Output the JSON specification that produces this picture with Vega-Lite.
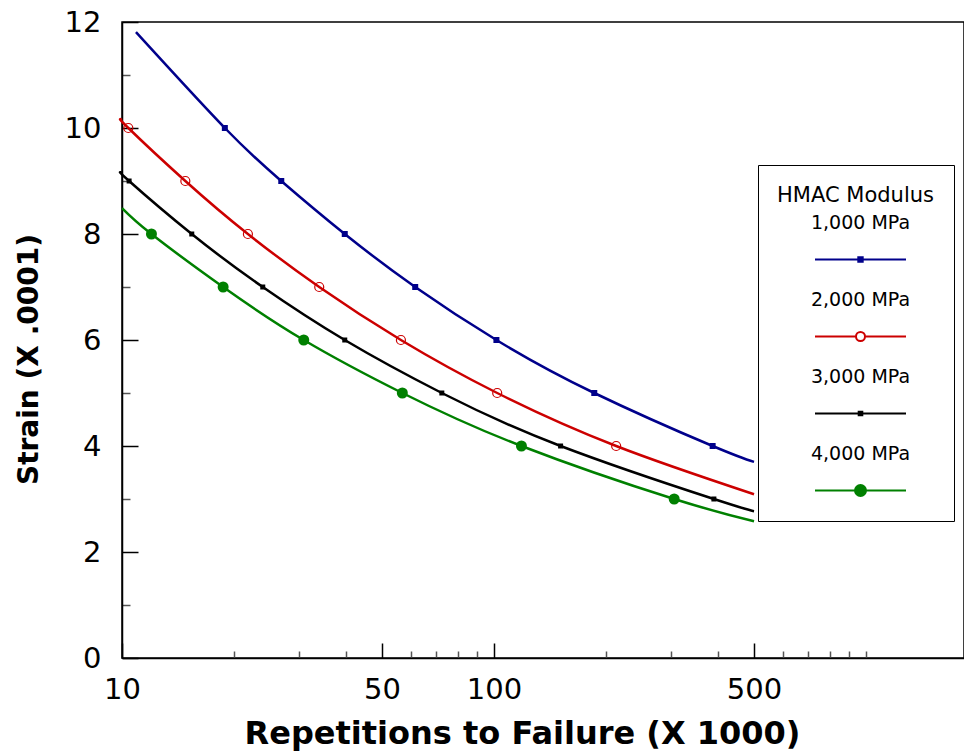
{
  "$schema": "https://vega.github.io/schema/vega-lite/v6.json",
  "autosize": {"type": "none"},
  "padding": {"left": 122, "top": 22, "right": 0, "bottom": 98},
  "width": 842,
  "height": 636,
  "background": "white",
  "config": {
    "view": {"stroke": "#000000", "strokeWidth": 1.5},
    "axis": {
      "grid": false,
      "domainColor": "#000000",
      "domainWidth": 1.5,
      "tickWidth": 1.5,
      "labelFont": "DejaVu Sans",
      "labelFontSize": 29,
      "labelColor": "#000000",
      "labelOverlap": false,
      "labelFlush": false,
      "titleFont": "DejaVu Sans",
      "titleFontWeight": "bold",
      "titleColor": "#000000"
    }
  },
  "data": {
    "values": [
      {"series": "1,000 MPa", "reps": 10.9, "strain": 11.81, "marker": false},
      {"series": "1,000 MPa", "reps": 18.9, "strain": 10, "marker": true},
      {"series": "1,000 MPa", "reps": 26.8, "strain": 9, "marker": true},
      {"series": "1,000 MPa", "reps": 39.7, "strain": 8, "marker": true},
      {"series": "1,000 MPa", "reps": 61.4, "strain": 7, "marker": true},
      {"series": "1,000 MPa", "reps": 101.5, "strain": 6, "marker": true},
      {"series": "1,000 MPa", "reps": 186, "strain": 5, "marker": true},
      {"series": "1,000 MPa", "reps": 387, "strain": 4, "marker": true},
      {"series": "1,000 MPa", "reps": 500, "strain": 3.7, "marker": false},
      {"series": "2,000 MPa", "reps": 10, "strain": 10.15, "marker": false},
      {"series": "2,000 MPa", "reps": 10.4, "strain": 10, "marker": true},
      {"series": "2,000 MPa", "reps": 14.8, "strain": 9, "marker": true},
      {"series": "2,000 MPa", "reps": 21.8, "strain": 8, "marker": true},
      {"series": "2,000 MPa", "reps": 33.9, "strain": 7, "marker": true},
      {"series": "2,000 MPa", "reps": 56.2, "strain": 6, "marker": true},
      {"series": "2,000 MPa", "reps": 102, "strain": 5, "marker": true},
      {"series": "2,000 MPa", "reps": 213, "strain": 4, "marker": true},
      {"series": "2,000 MPa", "reps": 500, "strain": 3.09, "marker": false},
      {"series": "3,000 MPa", "reps": 10, "strain": 9.15, "marker": false},
      {"series": "3,000 MPa", "reps": 10.45, "strain": 9, "marker": true},
      {"series": "3,000 MPa", "reps": 15.4, "strain": 8, "marker": true},
      {"series": "3,000 MPa", "reps": 23.9, "strain": 7, "marker": true},
      {"series": "3,000 MPa", "reps": 39.7, "strain": 6, "marker": true},
      {"series": "3,000 MPa", "reps": 72.4, "strain": 5, "marker": true},
      {"series": "3,000 MPa", "reps": 151, "strain": 4, "marker": true},
      {"series": "3,000 MPa", "reps": 390, "strain": 3, "marker": true},
      {"series": "3,000 MPa", "reps": 500, "strain": 2.77, "marker": false},
      {"series": "4,000 MPa", "reps": 10, "strain": 8.49, "marker": false},
      {"series": "4,000 MPa", "reps": 12.0, "strain": 8, "marker": true},
      {"series": "4,000 MPa", "reps": 18.7, "strain": 7, "marker": true},
      {"series": "4,000 MPa", "reps": 30.8, "strain": 6, "marker": true},
      {"series": "4,000 MPa", "reps": 56.7, "strain": 5, "marker": true},
      {"series": "4,000 MPa", "reps": 118.5, "strain": 4, "marker": true},
      {"series": "4,000 MPa", "reps": 305, "strain": 3, "marker": true},
      {"series": "4,000 MPa", "reps": 500, "strain": 2.58, "marker": false}
    ]
  },
  "encoding": {
    "x": {
      "field": "reps",
      "type": "quantitative",
      "scale": {"type": "log", "domain": [10, 1834], "nice": false},
      "axis": {
        "title": "Repetitions to Failure (X 1000)",
        "titleFontSize": 32,
        "titleX": 400,
        "titleY": 85,
        "titleBaseline": "alphabetic",
        "titleAlign": "center",
        "values": [10, 20, 30, 40, 50, 60, 70, 80, 90, 100, 200, 300, 400, 500, 600, 700, 800, 900, 1000],
        "labelExpr": "(datum.value == 10 || datum.value == 50 || datum.value == 100 || datum.value == 500) ? format(datum.value, 'd') : ''",
        "labelBaseline": "top",
        "labelPadding": 32,
        "tickSize": {"condition": {"test": "datum.value == 10 || datum.value == 50 || datum.value == 100 || datum.value == 500", "value": -15}, "value": -7},
        "tickColor": {"condition": {"test": "datum.value == 10 || datum.value == 50 || datum.value == 100 || datum.value == 500", "value": "#000000"}, "value": "#555555"}
      }
    },
    "y": {
      "field": "strain",
      "type": "quantitative",
      "scale": {"domain": [0, 12], "nice": false, "zero": false},
      "axis": {
        "title": "Strain (X .0001)",
        "titleFontSize": 28,
        "titleX": -85,
        "titleY": 337,
        "titleAngle": -90,
        "titleBaseline": "alphabetic",
        "titleAlign": "center",
        "values": [0, 1, 2, 3, 4, 5, 6, 7, 8, 9, 10, 11, 12],
        "labelExpr": "datum.value % 2 == 0 ? format(datum.value, 'd') : ''",
        "labelBaseline": "middle",
        "labelPadding": 37,
        "tickSize": {"condition": {"test": "datum.value % 2 == 0", "value": -16}, "value": -8},
        "tickColor": {"condition": {"test": "datum.value % 2 == 0", "value": "#000000"}, "value": "#555555"}
      }
    }
  },
  "layer": [
    {
      "mark": {"type": "line", "interpolate": "natural", "strokeWidth": 2.5, "opacity": 1},
      "encoding": {
        "stroke": {
          "field": "series",
          "type": "nominal",
          "scale": {"domain": ["1,000 MPa", "2,000 MPa", "3,000 MPa", "4,000 MPa"], "range": ["#00008B", "#CC0000", "#000000", "#008000"]}
        }
      }
    },
    {
      "transform": [{"filter": "false"}],
      "mark": {"type": "point", "filled": true, "opacity": 1, "strokeWidth": 2},
      "encoding": {
        "stroke": {
          "field": "series",
          "type": "nominal",
          "scale": {"domain": ["1,000 MPa", "2,000 MPa", "3,000 MPa", "4,000 MPa"], "range": ["#00008B", "#CC0000", "#000000", "#008000"]}
        },
        "fill": {
          "field": "series",
          "type": "nominal",
          "scale": {"domain": ["1,000 MPa", "2,000 MPa", "3,000 MPa", "4,000 MPa"], "range": ["#00008B", "#ffffff", "#000000", "#008000"]}
        },
        "shape": {
          "field": "series",
          "type": "nominal",
          "scale": {
            "domain": ["1,000 MPa", "2,000 MPa", "3,000 MPa", "4,000 MPa"],
            "range": [
              "M0,2.05L0,2.05M0,3.35L0,3.35M-4.55,2.7H4.55M-0.22,2.48H0.22V2.92H-0.22Z",
              "M0,2.05L0,2.05M0,3.35L0,3.35M-4.55,2.7H-0.45M0.45,2.7H4.55M0.45,2.7C0.45,2.949,0.249,3.15,0,3.15C-0.249,3.15,-0.45,2.949,-0.45,2.7C-0.45,2.451,-0.249,2.25,0,2.25C0.249,2.25,0.45,2.451,0.45,2.7Z",
              "M0,2.05L0,2.05M0,3.35L0,3.35M-4.55,2.7H4.55M-0.18,2.52H0.18V2.88H-0.18Z",
              "M0,2.05L0,2.05M0,3.35L0,3.35M-4.55,2.7H4.55M0.55,2.7C0.55,3.004,0.304,3.25,0,3.25C-0.304,3.25,-0.55,3.004,-0.55,2.7C-0.55,2.396,-0.304,2.15,0,2.15C0.304,2.15,0.55,2.396,0.55,2.7Z"
            ]
          },
          "legend": {
            "title": "HMAC Modulus",
            "orient": "none",
            "legendX": 636,
            "legendY": 143,
            "direction": "vertical",
            "padding": 19.5,
            "strokeColor": "#000000",
            "fillColor": "#ffffff",
            "titleFont": "DejaVu Sans",
            "titleFontSize": 21,
            "titleFontWeight": "normal",
            "titleColor": "#000000",
            "titleAnchor": "middle",
            "titleAlign": "center",
            "titleBaseline": "top",
            "titlePadding": 16,
            "labelFont": "DejaVu Sans",
            "labelFontSize": 19,
            "labelColor": "#000000",
            "labelExpr": "[datum.label, '']",
            "labelBaseline": "bottom",
            "labelAlign": "center",
            "labelOffset": -11,
            "symbolOffset": 49,
            "symbolSize": 400,
            "symbolStrokeWidth": 2,
            "symbolOpacity": 1,
            "rowPadding": 20
          }
        }
      }
    },
    {
      "transform": [{"filter": "datum.marker && datum.series == '1,000 MPa'"}],
      "mark": {"type": "point", "shape": "square", "filled": true, "size": 36, "color": "#00008B", "opacity": 1}
    },
    {
      "transform": [{"filter": "datum.marker && datum.series == '2,000 MPa'"}],
      "mark": {"type": "point", "shape": "circle", "filled": false, "size": 81, "color": "#CC0000", "strokeWidth": 1.2, "opacity": 1}
    },
    {
      "transform": [{"filter": "datum.marker && datum.series == '3,000 MPa'"}],
      "mark": {"type": "point", "shape": "square", "filled": true, "size": 25, "color": "#000000", "opacity": 1}
    },
    {
      "transform": [{"filter": "datum.marker && datum.series == '4,000 MPa'"}],
      "mark": {"type": "point", "shape": "circle", "filled": true, "size": 121, "color": "#008000", "opacity": 1}
    }
  ]
}
